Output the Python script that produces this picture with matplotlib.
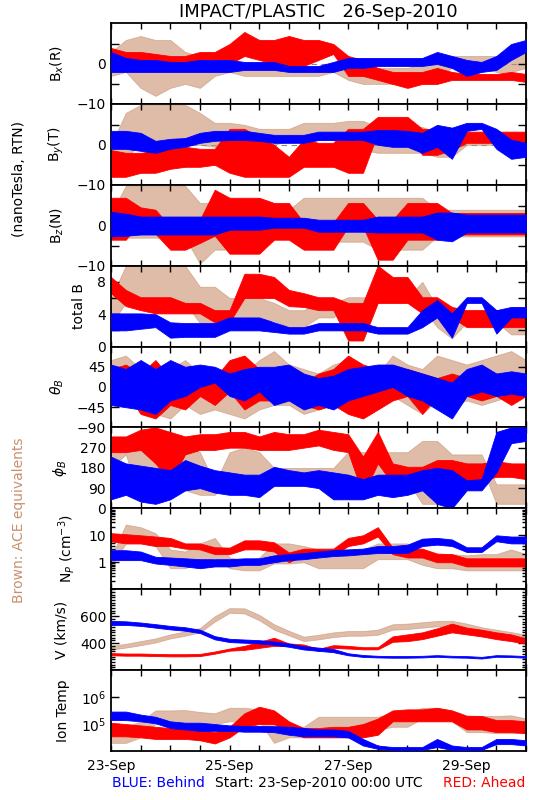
# STEREO IMPACT/PLASTIC summary plot, 23-30 Sep 2010
# blue = Behind, red = Ahead, brown = ACE
# each series kept as a low / high envelope read every 6 hours

import numpy as np
import matplotlib
matplotlib.use("Agg")
import matplotlib.pyplot as plt
from matplotlib.ticker import MultipleLocator, LogLocator, NullFormatter

BLUE = "#0000ff"
RED = "#ff0000"
BROWN = "#c8906e"

hours = list(range(0, 169, 6))   # hours since 23-Sep-2010 00:00
day_ticks = [0, 0.5, 1, 1.5, 2, 2.5, 3, 3.5, 4, 4.5, 5, 5.5, 6, 6.5, 7]
day_labels = ["23-Sep", "", "", "", "25-Sep", "", "", "", "27-Sep", "", "", "", "29-Sep", "", ""]

# Bx (R), nT
bx_blue_lo = [-2, -2, -2, -2, -2, -2, -2, -2, -2, -1.5, -1.5, -1.5, -2, -2, -2, -2, -1, -1, -0.5, -0.5, -0.5, -0.5, 0, -1, -3, -2, -1.5, 1, 3]
bx_blue_hi = [3, 1.5, 1, 1, 0.5, 0.5, 1, 1, 1, 0.5, 0.5, 0.5, -0.5, -0.5, -0.5, 0.5, 1.5, 1.5, 1.5, 1.5, 1.5, 1.5, 3, 2, 1, 0.5, 2, 5, 6]
bx_red_lo = [-1, -0.5, -1, -0.5, -0.5, -0.5, 0, 0, 0, 2, 1, 0, -1, -0.5, 1, 2.5, -3, -3, -4, -5, -6, -5, -5, -4, -4, -4, -4, -4, -4.5]
bx_red_hi = [4, 3, 3, 2.5, 2, 2, 3, 3, 5, 8, 6, 6, 7, 6, 6, 5, 2, 1, -1, -2, -2, -2, -1, -2, -2.5, -2.5, -2.5, -2, -2.5]
bx_brown_lo = [-3, -2, -6, -8, -6, -5, -6, -3, -2, -3, -3, -3, -3, -3, -3, -2, -4, -5, -5, -5, -5, -5, -3, -1, -1, -1, -2, -2, -1]
bx_brown_hi = [3, 6, 7, 6, 6, 3, 2, 1, 0, 0, -1, -1, -1, -1, -1, 0, 0, -1, -1, -1, -1, 0, 2, 2, 2, 2, 2, 3, 4]

# By (T), nT
by_blue_lo = [-1, -1, -1.5, -2, -1, -0.5, 0.5, 1, 1.2, 1.2, 1, 0.5, 0.5, 0.5, 1.2, 1.2, 1.2, 1.2, 0, -0.5, -0.5, -2, -0.5, -3.5, 3.5, 4, -1, -3.5, -3]
by_blue_hi = [3.5, 3.5, 3, 1, 1.5, 1.7, 3, 3.5, 3.5, 3.5, 3, 2.5, 2.5, 2.5, 3.3, 3.3, 3.3, 3.3, 3.7, 3.7, 3.5, 3, 5, 4.3, 5.5, 5.5, 4, 1.3, 0.5]
by_red_lo = [-8, -8, -7, -7, -6, -5.5, -5.5, -5, -7, -8, -8, -8, -8, -5.5, -5.5, -5.5, -7, -7, 3, 3, 3, -2.5, -2.5, -1.3, 0.5, 0.5, 0.5, 0.5, 0.5]
by_red_hi = [-1.3, -2, -2, -1.5, -0.5, -0.5, -1, -1, 4, 4, 2, 0, -3, 1.3, 0.5, 0.5, 4, 4, 7, 7, 7, 4, 4, 2.8, 3.3, 3.3, 3.3, 3.3, 3.3]
by_brown_lo = [-4, -3, 0, 0, 0, 0, 0, -0.5, -0.5, -0.5, 0, 0, 1, 1, 1.2, 1.2, -1.3, -1.3, -2, -2, -2, -2, -3, -3, 0, 0, 0, 0, 0]
by_brown_hi = [0, 8, 10, 10, 10, 10, 8, 5.5, 5.5, 5, 4, 4, 4, 5.5, 5.5, 5.5, 6, 6, 4.5, 4.5, 4.5, 4.5, 3, 3, 3, 3, 3, 3, 3]

# Bz (N), nT
bz_blue_lo = [-2.7, -2.5, -2.2, -2.2, -2.2, -2.2, -2.2, -2.2, -1, -1, -1, -0.5, -0.5, -0.5, -1.5, -1.5, -1.5, -1.5, -1.7, -1.7, -1.7, -1.7, -3.5, -3.9, -1.7, -1.7, -1.7, -1.7, -1.7]
bz_blue_hi = [3.5, 3, 2.3, 2.3, 2.3, 2.3, 2.3, 2.3, 2.3, 2.3, 2.3, 2, 2, 2, 1.5, 1.5, 1.5, 1.5, 2.3, 2.3, 2.3, 2.3, 3.3, 3.3, 2.8, 2.8, 2.8, 2.8, 2.8]
bz_red_lo = [-3.5, -3.5, 1.4, -2, -6, -6, -4.3, -2.5, -7, -7, -7, -3.5, -3.5, -6, -6, -6, -0.2, -0.2, -8.5, -8.5, -3.5, -3.5, -3.5, -2.2, -2.2, -2.2, -2.2, -2.2, -2.2]
bz_red_hi = [7, 7, 4.6, 4, -0.2, -0.2, 1.5, 9, 7, 7, 7, 5.7, 5.7, 0.8, 0.8, 0.8, 5.7, 5.7, 1.5, 1.5, 5.7, 5.7, 5.7, 3.2, 3.2, 3.2, 3.2, 3.2, 3.2]
bz_brown_lo = [-3, -3, -3, -3, -3, -3, -9.5, -6, -6, -6, -6, -1.7, -1.7, -4, -4, -4, -4, -4, -6, -6, -6, -6, -2.7, -2.7, -2.7, -2.7, -2.7, -2.7, -2.7]
bz_brown_hi = [3, 10, 10, 10, 10, 10, 5.7, 5.7, 5.7, 5.7, 5.7, 4, 4, 7, 7, 7, 7, 7, 7, 7, 7, 7, 4, 4, 4, 4, 4, 4, 4]

# total B, nT
tb_blue_lo = [2, 2, 2.2, 2.4, 1.1, 1.2, 1.2, 1.2, 2, 2, 2, 1.8, 1.6, 1.6, 2, 2, 2, 2, 1.6, 1.6, 1.6, 2.4, 3.6, 1.1, 5.4, 5.4, 1.6, 3.6, 3.6]
tb_blue_hi = [4.1, 4.1, 4.1, 4, 3, 2.9, 2.9, 2.9, 3.6, 3.6, 3.6, 3, 2.4, 2.4, 2.9, 2.9, 2.9, 2.9, 2.4, 2.4, 2.4, 4.5, 5.75, 4.1, 6.1, 6.1, 4.5, 4.9, 4.9]
tb_red_lo = [6.6, 5, 4.5, 4.1, 4.1, 4.1, 4.1, 3, 3, 6, 6, 6, 5, 4.9, 4.5, 4.5, 0.75, 0.75, 5.4, 5.4, 5.4, 4.1, 4.1, 3.6, 2.4, 2.4, 2.4, 2.4, 2.4]
tb_red_hi = [8.6, 7, 6.1, 6.1, 6.1, 5.4, 5.4, 4.5, 4.5, 9, 9, 8.6, 7, 6.6, 6.1, 6.1, 5.4, 5.4, 10, 8.6, 8.6, 6.1, 6.1, 4.9, 4.5, 4.5, 4.5, 4.5, 4.5]
tb_brown_lo = [2.7, 5.4, 5.4, 5.4, 5.4, 5.4, 2.9, 2.9, 3.2, 3.2, 3.2, 3.2, 2.4, 2.4, 3.6, 3.6, 4.9, 4.9, 5.4, 5.4, 5.4, 4.9, 2.4, 1, 3, 3, 3, 1.5, 1.5]
tb_brown_hi = [6, 10, 10, 10, 10, 10, 7.4, 7.4, 6, 6, 6, 5.4, 4.5, 4.5, 5.4, 5.4, 6.1, 6.1, 6, 6, 6, 8, 4.9, 4, 4.5, 4.5, 4.5, 4, 4]

# theta_B, degrees
th_blue_lo = [-40, -45, -50, -60, -30, -20, 0, 10, -20, -30, -10, -40, -30, -50, -40, -50, -30, -20, -10, 0, -20, -30, -50, -70, -20, -10, -20, -15, -20]
th_blue_hi = [50, 40, 60, 40, 60, 45, 50, 45, 30, 40, 45, 45, 50, 30, 20, 25, 40, 45, 50, 50, 40, 30, 20, 10, 40, 50, 30, 35, 30]
th_red_lo = [-30, -10, -60, -70, -40, -50, -20, -40, -10, -50, -30, -30, -20, -40, -50, -40, -60, -70, -50, -30, -20, -60, -20, -10, -20, -30, -20, -40, -20]
th_red_hi = [40, 50, 30, 60, 20, 10, 30, 20, 60, 70, 40, 30, 20, 10, 30, 40, 70, 50, 40, 30, 40, 30, 20, 30, 20, 20, 30, 20, 10]
th_brown_lo = [-40, -30, -50, -60, -70, -40, -60, -50, -60, -70, -50, -40, -40, -60, -50, -40, -30, -40, -50, -20, -40, -60, -30, -40, -30, -40, -30, -20, -10]
th_brown_hi = [60, 70, 40, 50, 40, 60, 30, 40, 20, 30, 60, 80, 50, 40, 30, 50, 60, 40, 30, 70, 50, 40, 70, 60, 50, 60, 70, 80, 60]

# phi_B, degrees
ph_blue_lo = [40, 60, 30, 20, 40, 80, 90, 70, 60, 60, 50, 100, 100, 100, 90, 40, 40, 40, 60, 50, 60, 80, 20, 0, 80, 80, 160, 290, 300]
ph_blue_hi = [230, 200, 190, 180, 170, 215, 190, 170, 160, 150, 150, 185, 170, 160, 170, 160, 150, 130, 150, 150, 150, 170, 180, 170, 125, 130, 340, 360, 360]
ph_red_lo = [250, 250, 260, 200, 120, 240, 260, 260, 270, 270, 260, 260, 260, 270, 280, 260, 250, 60, 200, 110, 110, 110, 125, 125, 125, 125, 140, 140, 130]
ph_red_hi = [320, 320, 350, 360, 340, 320, 330, 330, 340, 340, 320, 340, 330, 330, 350, 340, 330, 230, 340, 200, 185, 185, 215, 215, 200, 200, 210, 200, 200]
ph_brown_lo = [180, 240, 30, 40, 60, 80, 60, 60, 130, 150, 120, 130, 130, 130, 100, 100, 125, 125, 125, 125, 125, 20, 20, 190, 190, 190, 20, 20, 20]
ph_brown_hi = [300, 310, 260, 250, 300, 280, 250, 110, 250, 270, 250, 180, 180, 180, 180, 180, 250, 250, 250, 250, 250, 300, 300, 240, 240, 240, 107, 107, 107]

# proton density, cm^-3
np_blue_lo = [1.2, 1.2, 1.2, 0.9, 0.8, 0.7, 0.6, 0.7, 0.7, 0.8, 0.8, 1.0, 1.2, 1.3, 1.5, 1.7, 1.8, 2.0, 2.2, 2.2, 2.2, 4.0, 4.5, 4.0, 2.4, 2.4, 6.0, 5.0, 5.0]
np_blue_hi = [2.8, 2.8, 2.5, 1.6, 1.5, 1.4, 1.3, 1.3, 1.3, 1.4, 1.4, 1.8, 2.0, 2.2, 2.5, 2.8, 3.0, 3.2, 4.0, 4.0, 4.5, 7.5, 8.0, 7.0, 3.6, 3.6, 10, 9, 9]
np_red_lo = [6, 5, 5, 4, 4, 3.2, 3, 2, 2, 3, 3, 2.5, 1, 1.8, 1.8, 1.8, 4, 5, 9, 2, 1.5, 1.5, 1, 1, 0.7, 0.7, 0.7, 0.7, 0.7]
np_red_hi = [12, 11, 10, 9, 8, 5, 5, 3.6, 3.5, 6.5, 6.5, 5.5, 2.3, 3.2, 3.2, 3.2, 8, 10, 20, 3.5, 3.2, 3.2, 2.1, 2, 1.4, 1.4, 1.4, 1.4, 1.4]
np_brown_lo = [0.7, 5, 5, 4, 0.6, 0.6, 1, 1.5, 0.6, 0.5, 0.5, 0.9, 0.9, 1, 0.6, 0.6, 0.6, 0.6, 1.3, 1.3, 1.3, 0.8, 0.6, 0.6, 0.5, 0.5, 0.5, 0.5, 0.5]
np_brown_hi = [1.5, 25, 20, 12, 3, 2.5, 5, 8, 1.5, 1.2, 1.5, 5, 5, 4, 3, 3, 3, 3, 5, 5, 5, 2, 2, 2, 1.8, 2, 2, 3, 2]

# bulk speed, km/s
v_blue_lo = [535, 535, 528, 515, 502, 492, 475, 428, 408, 403, 398, 388, 373, 353, 343, 333, 310, 298, 294, 292, 292, 294, 299, 294, 292, 286, 299, 297, 292]
v_blue_hi = [565, 562, 553, 541, 528, 518, 500, 452, 432, 427, 422, 412, 397, 377, 367, 357, 325, 312, 306, 304, 304, 306, 311, 306, 304, 298, 311, 309, 304]
v_red_lo = [310, 307, 307, 304, 302, 302, 304, 322, 344, 350, 365, 380, 378, 370, 342, 365, 360, 354, 354, 410, 415, 430, 455, 480, 465, 450, 430, 415, 395]
v_red_hi = [326, 323, 323, 320, 318, 318, 320, 338, 360, 380, 410, 440, 398, 390, 358, 385, 380, 370, 370, 450, 465, 480, 510, 545, 515, 500, 480, 465, 435]
v_brown_lo = [352, 367, 385, 405, 435, 455, 480, 560, 625, 620, 570, 500, 458, 415, 428, 445, 455, 455, 462, 500, 505, 515, 525, 527, 505, 480, 462, 448, 430]
v_brown_hi = [380, 395, 415, 435, 465, 487, 512, 600, 660, 658, 610, 540, 492, 448, 462, 480, 490, 490, 500, 540, 545, 555, 565, 566, 545, 518, 500, 482, 462]

# ion temperature, K
t_blue_lo = [1.4e5, 1.4e5, 1.26e5, 1.07e5, 7.1e4, 6.3e4, 5.6e4, 5.6e4, 5.6e4, 5.2e4, 5.2e4, 5.0e4, 4.0e4, 3.5e4, 3.5e4, 3.5e4, 3.2e4, 1.6e4, 1.2e4, 1.1e4, 1.1e4, 1.1e4, 1.4e4, 1.1e4, 1.1e4, 1.1e4, 1.8e4, 1.8e4, 1.6e4]
t_blue_hi = [2.9e5, 2.9e5, 2.24e5, 1.86e5, 1.26e5, 1.12e5, 1.12e5, 1.0e5, 8.9e4, 8.5e4, 8.5e4, 8.3e4, 7.9e4, 7.1e4, 6.3e4, 6.3e4, 5.6e4, 2.8e4, 1.6e4, 1.4e4, 1.4e4, 1.4e4, 2.8e4, 1.6e4, 1.4e4, 1.4e4, 2.8e4, 2.8e4, 2.5e4]
t_red_lo = [3.5e4, 3.5e4, 3.2e4, 2.8e4, 2.8e4, 2.8e4, 2.5e4, 1.9e4, 3.2e4, 7.9e4, 1.0e5, 1.0e5, 5.0e4, 3.2e4, 3.2e4, 3.2e4, 3.2e4, 3.2e4, 4.0e4, 1.26e5, 1.26e5, 1.26e5, 1.26e5, 1.26e5, 6.3e4, 6.3e4, 5.0e4, 5.0e4, 4.6e4]
t_red_hi = [1.1e5, 1.0e5, 8.9e4, 7.9e4, 7.1e4, 7.1e4, 6.3e4, 5.0e4, 7.9e4, 2.5e5, 4.4e5, 3.2e5, 1.26e5, 7.1e4, 7.1e4, 7.9e4, 7.9e4, 1.0e5, 1.6e5, 3.2e5, 3.5e5, 3.5e5, 4.0e5, 3.2e5, 2.0e5, 2.0e5, 1.4e5, 1.4e5, 1.26e5]
t_brown_lo = [2.0e4, 2.0e4, 3.2e4, 1.0e5, 1.1e5, 1.1e5, 1.1e5, 1.0e5, 1.26e5, 1.26e5, 1.26e5, 2.0e4, 3.2e4, 3.2e4, 6.0e4, 6.0e4, 6.0e4, 6.0e4, 6.0e4, 7.9e4, 7.9e4, 1.6e5, 1.6e5, 1.26e5, 5.0e4, 5.0e4, 4.6e4, 4.6e4, 4.6e4]
t_brown_hi = [7.9e4, 7.9e4, 1.26e5, 3.2e5, 3.2e5, 3.3e5, 2.8e5, 2.5e5, 4.0e5, 4.0e5, 3.5e5, 1.86e5, 7.9e4, 7.9e4, 1.86e5, 1.86e5, 1.86e5, 1.86e5, 1.86e5, 2.5e5, 2.5e5, 4.0e5, 4.0e5, 3.2e5, 2.1e5, 2.0e5, 2.0e5, 2.1e5, 1.6e5]

M = "\u2212"   # long minus like the IDL font

# one entry per panel: label, series, y range, ticks, tick labels, log?, zero line?
panels = [
    ("B$_x$(R)", (bx_brown_lo, bx_brown_hi, bx_red_lo, bx_red_hi, bx_blue_lo, bx_blue_hi),
     (-10, 10.25), [-10, -5, 0, 5], [M + "10", "", "0", ""], False, True),
    ("B$_y$(T)", (by_brown_lo, by_brown_hi, by_red_lo, by_red_hi, by_blue_lo, by_blue_hi),
     (-10, 10.25), [-10, -5, 0, 5], [M + "10", "", "0", ""], False, True),
    ("B$_z$(N)", (bz_brown_lo, bz_brown_hi, bz_red_lo, bz_red_hi, bz_blue_lo, bz_blue_hi),
     (-10, 10.25), [-10, -5, 0, 5], [M + "10", "", "0", ""], False, True),
    ("total B", (tb_brown_lo, tb_brown_hi, tb_red_lo, tb_red_hi, tb_blue_lo, tb_blue_hi),
     (0, 10), [0, 2, 4, 6, 8], ["0", "", "4", "", "8"], False, False),
    (r"$\theta_B$", (th_brown_lo, th_brown_hi, th_red_lo, th_red_hi, th_blue_lo, th_blue_hi),
     (-90, 90), [-90, -45, 0, 45], [M + "90", M + "45", "0", "45"], False, False),
    (r"$\phi_B$", (ph_brown_lo, ph_brown_hi, ph_red_lo, ph_red_hi, ph_blue_lo, ph_blue_hi),
     (0, 360), [0, 90, 180, 270], ["0", "90", "180", "270"], False, False),
    ("N$_P$ (cm$^{-3}$)", (np_brown_lo, np_brown_hi, np_red_lo, np_red_hi, np_blue_lo, np_blue_hi),
     (0.1, 100), [1, 10], ["1", "10"], True, False),
    ("V (km/s)", (v_brown_lo, v_brown_hi, v_red_lo, v_red_hi, v_blue_lo, v_blue_hi),
     (200, 800), [400, 600], ["400", "600"], False, False),
    ("Ion Temp", (t_brown_lo, t_brown_hi, t_red_lo, t_red_hi, t_blue_lo, t_blue_hi),
     (1e4, 1e7), [1e5, 1e6], ["10$^5$", "10$^6$"], True, False),
]

plt.rcParams["font.family"] = "DejaVu Sans"
plt.rcParams["mathtext.fontset"] = "dejavusans"

days = np.array(hours) / 24.0

fig, axes = plt.subplots(9, 1, figsize=(5.5, 8), dpi=100, sharex=True)
fig.subplots_adjust(left=0.2018, right=0.9564, bottom=0.06125, top=0.97125, hspace=0)

for ax, (label, series, ylim, yticks, ylabels, logy, zero) in zip(axes, panels):
    b_lo, b_hi, r_lo, r_hi, u_lo, u_hi = series
    if logy:
        ax.set_yscale("log")
    if zero:
        ax.axhline(0, color="#888888", lw=0.8, ls=(0, (5, 4)), zorder=0)
    # brown (ACE) underneath, then red (Ahead), blue (Behind) on top
    ax.fill_between(days, b_lo, b_hi, color=BROWN, lw=0.6, alpha=0.6, zorder=1)
    ax.fill_between(days, r_lo, r_hi, color=RED, lw=0.6, zorder=2)
    ax.fill_between(days, u_lo, u_hi, color=BLUE, lw=0.6, zorder=3)

    ax.set_ylim(*ylim)
    ax.set_yticks(yticks, ylabels)
    if logy:
        ax.yaxis.set_minor_locator(LogLocator(base=10, subs=np.arange(2, 10)))
        ax.yaxis.set_minor_formatter(NullFormatter())
    elif label.startswith("V"):
        ax.yaxis.set_minor_locator(MultipleLocator(20))
    else:
        ax.yaxis.set_minor_locator(plt.NullLocator())
    ax.set_ylabel(label, fontsize=10, labelpad=8)

    ax.tick_params(axis="both", which="both", direction="in", top=True, right=True, labelsize=10)
    ax.tick_params(axis="y", which="major", length=6, width=1)
    ax.tick_params(axis="y", which="minor", length=3, width=1)
    ax.tick_params(axis="x", which="major", length=4, width=1)
    for s in ax.spines.values():
        s.set_linewidth(1.3)

axes[-1].set_xlim(0, 7)
axes[-1].set_xticks(day_ticks, day_labels)
axes[-1].tick_params(axis="x", pad=6)

fig.text(0.579, 0.985, "IMPACT/PLASTIC   26-Sep-2010", ha="center", va="center", fontsize=13)
fig.text(0.035, 0.776, "(nanoTesla, RTN)", rotation=90, ha="center", va="center", fontsize=10)
fig.text(0.035, 0.35, "Brown: ACE equivalents", rotation=90, ha="center", va="center",
         fontsize=10, color=BROWN)
fig.text(0.203, 0.021, "BLUE: Behind", ha="left", va="center", fontsize=10, color=BLUE)
fig.text(0.58, 0.021, "Start: 23-Sep-2010 00:00 UTC", ha="center", va="center", fontsize=10)
fig.text(0.955, 0.021, "RED: Ahead", ha="right", va="center", fontsize=10, color=RED)

fig.savefig("out.png", dpi=100)
print("saved out.png")
